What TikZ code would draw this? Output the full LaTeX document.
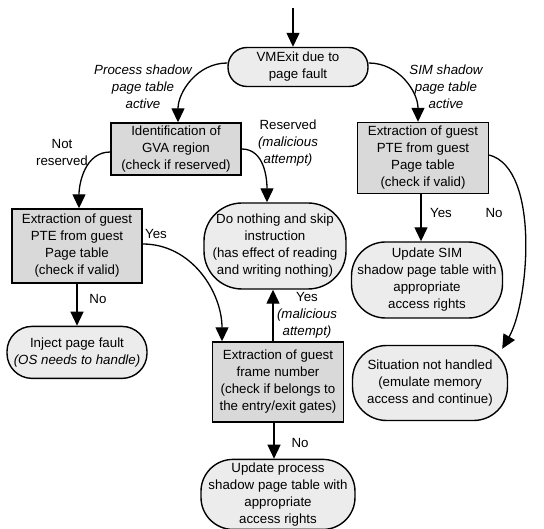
\documentclass[tikz,border=0pt]{standalone}
\usepackage{fontspec}
\setmainfont{Liberation Sans}
\usetikzlibrary{arrows.meta, positioning, calc}

\newcommand{\diagfont}{\fontsize{13.3}{17}\selectfont}

\begin{document}
\begin{tikzpicture}[
    x=1pt, y=1pt,
    font=\diagfont,
    proc/.style={rectangle, draw, line width=1.4pt, fill=gray!30, align=center, inner sep=1pt},
    term/.style={rectangle, draw, line width=1.4pt, fill=gray!15, rounded corners=#1, align=center, inner sep=1pt},
    term/.default=30pt,
    lbl/.style={align=center},
    ilbl/.style={align=center, font=\diagfont\itshape},
    arrow/.style={-{Triangle[length=14pt,width=13pt]}, line width=1.3pt}
  ]
    \useasboundingbox (0,0) rectangle (544,-529);

    % Entry point
    \node[term=19pt, minimum width=140pt, minimum height=39pt] (vmexit) at (298,-67) {VMExit due to\\page fault};
    \coordinate (entry) at (293,-8);

    % Process shadow page table branch
    \node[proc, minimum width=130pt, minimum height=52pt] (gva) at (176,-149) {Identification of\\GVA region\\(check if reserved)};
    \node[proc, minimum width=130pt, minimum height=74pt] (procpte) at (77,-246) {Extraction of guest\\PTE from guest\\Page table\\(check if valid)};
    \node[term=25pt, below=42pt of procpte, minimum width=140pt, minimum height=52pt] (inject) {Inject page fault\\\textit{(OS needs to handle)}};
    \node[term=38pt, minimum width=142pt, minimum height=86pt] (skip) at (275,-246) {Do nothing and skip\\instruction\\(has effect of reading\\and writing nothing)};
    \node[proc, minimum width=131pt, minimum height=80pt] (frame) at (278,-382) {Extraction of guest\\frame number\\(check if belongs to\\the entry/exit gates)};
    \node[term=32pt, below=36pt of frame, minimum width=154pt, minimum height=70pt] (updproc) {Update process\\shadow page table with\\appropriate\\access rights};

    % SIM shadow page table branch
    \node[proc, minimum width=131pt, minimum height=71pt] (simpte) at (423,-158) {Extraction of guest\\PTE from guest\\Page table\\(check if valid)};
    \node[term=34pt, minimum width=151pt, minimum height=76pt] (updsim) at (427,-280) {Update SIM\\shadow page table with\\appropriate\\access rights};
    \node[term=34pt, minimum width=155pt, minimum height=75pt] (unhandled) at (430,-383) {Situation not handled\\(emulate memory\\access and continue)};

    % Labels
    \node[ilbl] (lblproc) at (143,-87) {Process shadow\\page table\\active};
    \node[ilbl] (lblsim) at (446,-87) {SIM shadow\\page table\\active};
    \node[lbl] (lblnotres) at (62,-152) {Not\\reserved};
    \node[lbl] (lblres) at (288,-143) {Reserved\\\textit{(malicious}\\\textit{attempt)}};
    \node[lbl] (lblsimyes) at (441,-213) {Yes};
    \node[lbl] (lblsimno) at (494,-213) {No};
    \node[lbl] (lblprocyes) at (156,-234) {Yes};
    \node[lbl] (lblprocno) at (98,-299) {No};
    \node[lbl] (lblframeyes) at (307,-315) {Yes\\\textit{(malicious}\\\textit{attempt)}};
    \node[lbl] (lblframeno) at (300,-443) {No};

    % Arrows
    \draw[arrow] (entry) -- (entry |- vmexit.north);
    \draw[arrow] ([yshift=4pt]vmexit.west) to[out=180, in=90] ([xshift=2pt]gva.north);
    \draw[arrow] ([yshift=4pt]vmexit.east) to[out=0, in=90] ([xshift=-5pt]simpte.north);
    \draw[arrow] ([yshift=-3pt]gva.west) to[out=180, in=90] ([xshift=2pt]procpte.north);
    \draw[arrow] (gva.east) to[out=0, in=90] ([xshift=-8pt]skip.north);
    \draw[arrow] (procpte.south) -- (procpte.south |- inject.north);
    \draw[arrow] ([yshift=2pt]procpte.east) to[out=0, in=90] ([xshift=-56pt]frame.north);
    \draw[arrow] ([xshift=-5pt]frame.north) -- ([xshift=-5pt]frame.north |- skip.south);
    \draw[arrow] ([xshift=-4pt]frame.south) -- ([xshift=-4pt]frame.south |- updproc.north);
    \draw[arrow] ([xshift=-2pt]simpte.south) -- ([xshift=-2pt]simpte.south |- updsim.north);
    \draw[arrow] ([yshift=3pt]simpte.east) to[out=-15, in=60, looseness=0.7] ([shift={(-6pt,-4pt)}]unhandled.north east);
  \end{tikzpicture}
\end{document}
